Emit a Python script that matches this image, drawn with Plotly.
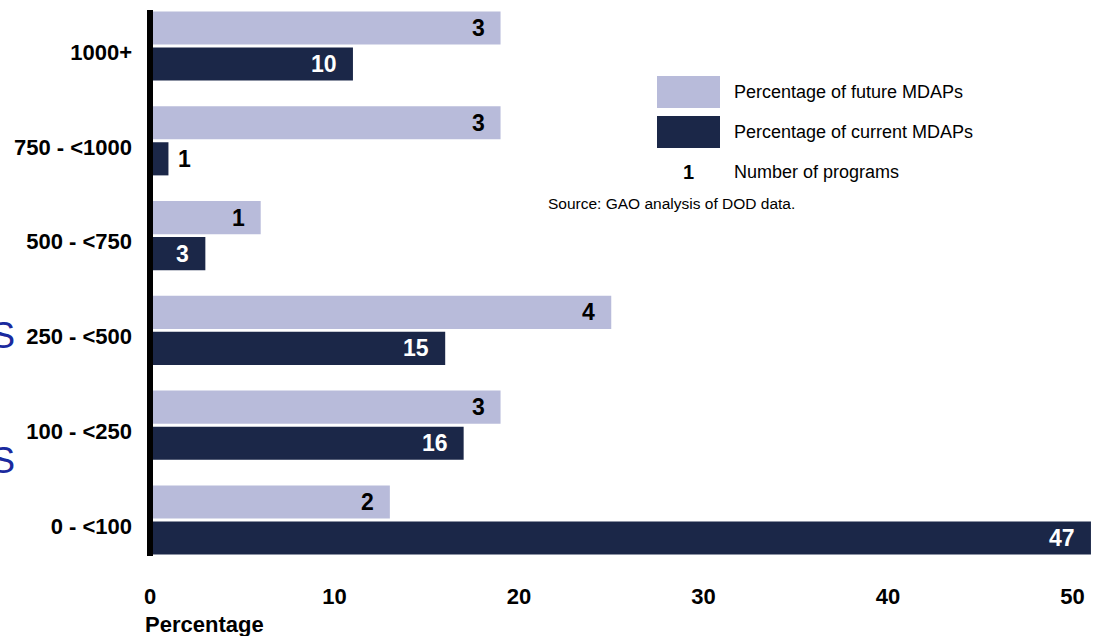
import plotly.graph_objects as go

# ---- data ----
categories = ["1000+", "750 - <1000", "500 - <750", "250 - <500", "100 - <250", "0 - <100"]
future_pct = [19, 19, 6, 25, 19, 13]
current_pct = [11, 1, 3, 16, 17, 51]
future_count = [3, 3, 1, 4, 3, 2]
current_count = [10, 1, 3, 15, 16, 47]
x_ticks = [0, 10, 20, 30, 40, 50]

LIGHT = "#b8bbda"
DARK = "#1b2748"
FONT = "Liberation Sans, Arial, sans-serif"

fig = go.Figure()
fig.add_trace(go.Bar(y=categories, x=future_pct, orientation="h", name="Percentage of future MDAPs",
                     marker=dict(color=LIGHT, line=dict(width=0)), hoverinfo="skip"))
fig.add_trace(go.Bar(y=categories, x=current_pct, orientation="h", name="Percentage of current MDAPs",
                     marker=dict(color=DARK, line=dict(width=0)), hoverinfo="skip"))

annotations = []
# bar labels (number of programs)
for cat, v, n in zip(categories, future_pct, future_count):
    annotations.append(dict(x=v, y=cat, xref="x", yref="y", text=str(n), showarrow=False,
                            xanchor="right", yanchor="middle", xshift=-14, yshift=18,
                            font=dict(family=FONT, size=23, color="black", weight="bold")))
for cat, v, n in zip(categories, current_pct, current_count):
    outside = v < 2
    annotations.append(dict(x=v, y=cat, xref="x", yref="y", text=str(n), showarrow=False,
                            xanchor="left" if outside else "right", yanchor="middle",
                            xshift=8 if outside else -14, yshift=-18,
                            font=dict(family=FONT, size=23, color="black" if outside else "white",
                                      weight="bold")))

W0, H0 = 150, 10
PW, PH = 947, 546


def px(x):
    return (x - W0) / PW


def py(y):
    return (H0 + PH - y) / PH


# legend texts
annotations += [
    dict(x=px(732), y=py(92), xref="paper", yref="paper", text="Percentage of future MDAPs",
         showarrow=False, xanchor="left", yanchor="middle", font=dict(family=FONT, size=18, color="black")),
    dict(x=px(732), y=py(132), xref="paper", yref="paper", text="Percentage of current MDAPs",
         showarrow=False, xanchor="left", yanchor="middle", font=dict(family=FONT, size=18, color="black")),
    dict(x=px(688), y=py(172), xref="paper", yref="paper", text="1",
         showarrow=False, xanchor="center", yanchor="middle",
         font=dict(family=FONT, size=20, color="black", weight="bold")),
    dict(x=px(732), y=py(172), xref="paper", yref="paper", text="Number of programs",
         showarrow=False, xanchor="left", yanchor="middle", font=dict(family=FONT, size=18, color="black")),
    dict(x=px(546), y=py(204), xref="paper", yref="paper", text="Source: GAO analysis of DOD data.",
         showarrow=False, xanchor="left", yanchor="middle", font=dict(family=FONT, size=15.5, color="black")),
    dict(x=px(143), y=py(624), xref="paper", yref="paper", text="Percentage",
         showarrow=False, xanchor="left", yanchor="middle",
         font=dict(family=FONT, size=22, color="black", weight="bold")),
    dict(x=px(17), y=py(335), xref="paper", yref="paper", text="S",
         showarrow=False, xanchor="right", yanchor="middle", font=dict(family=FONT, size=36, color="#1a2a9e")),
    dict(x=px(17), y=py(460), xref="paper", yref="paper", text="S",
         showarrow=False, xanchor="right", yanchor="middle", font=dict(family=FONT, size=36, color="#1a2a9e")),
]

shapes = [
    dict(type="rect", xref="paper", yref="paper", x0=px(657), x1=px(720), y0=py(108), y1=py(76),
         fillcolor=LIGHT, line=dict(width=0)),
    dict(type="rect", xref="paper", yref="paper", x0=px(657), x1=px(720), y0=py(148), y1=py(116),
         fillcolor=DARK, line=dict(width=0)),
    dict(type="line", xref="paper", yref="paper", x0=0, x1=0, y0=0, y1=1,
         line=dict(color="black", width=6), layer="above"),
]

fig.update_layout(
    width=1097, height=636,
    margin=dict(l=W0, r=1097 - W0 - PW, t=H0, b=636 - H0 - PH, pad=0),
    paper_bgcolor="white", plot_bgcolor="white",
    barmode="group", bargap=0.24, bargroupgap=0.08,
    showlegend=False,
    annotations=annotations, shapes=shapes,
    xaxis=dict(range=[0, PW / 18.45], tickvals=x_ticks, ticktext=[str(t) for t in x_ticks],
               showgrid=False, zeroline=False, showline=False, ticks="",
               ticklabelstandoff=25,
               tickfont=dict(family=FONT, size=22, color="black", weight="bold")),
    yaxis=dict(type="category", range=[5.38, -0.38], showgrid=False, zeroline=False, showline=False,
               ticks="", ticklabelstandoff=17, ticklabelshift=-6,
               tickfont=dict(family=FONT, size=22, color="black", weight="bold")),
    font=dict(family=FONT),
)

fig.write_html("out.html")
